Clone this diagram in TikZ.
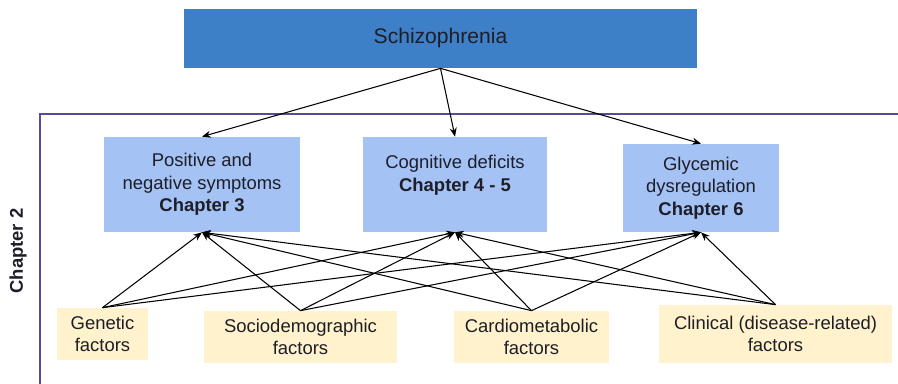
\documentclass[tikz,border=0pt]{standalone}
\usepackage{fontspec}
\setmainfont{Liberation Sans}
\usetikzlibrary{arrows.meta,positioning}
\definecolor{topblue}{HTML}{3E80C7}
\definecolor{lightblue}{HTML}{A4C2F4}
\definecolor{lightyellow}{HTML}{FFF2CC}
\definecolor{framepurple}{HTML}{58499B}
\definecolor{inkdark}{HTML}{1E1E28}

\begin{document}
\begin{tikzpicture}[x=0.02cm, y=-0.02cm,
  every node/.style={text=inkdark, font=\fontsize{10.5pt}{12.8pt}\selectfont},
  mainbox/.style={rectangle, fill=topblue, minimum width=513*0.02cm, minimum height=59*0.02cm, inner sep=0pt},
  outcomebox/.style={rectangle, fill=lightblue, align=center, inner sep=0pt},
  factorbox/.style={rectangle, fill=lightyellow, align=center, inner sep=0pt},
  linkarrow/.style={-{Stealth[length=5pt, width=4pt]}, line width=0.6pt, black}]
\useasboundingbox (0,0) rectangle (898,384);

% chapter frame
\draw[framepurple, line width=1.2pt] (40,390) |- (905,114);
\node[rotate=90, font=\fontsize{10.5pt}{12.8pt}\selectfont\bfseries] (chap2) at (18,251) {Chapter 2};

\node[mainbox, font=\fontsize{12pt}{14pt}\selectfont] (schizo) at (440.5,38.5) {Schizophrenia};

% outcomes
\node[outcomebox, minimum width=196*0.02cm, minimum height=95*0.02cm] (pos) at (202,184.5) {Positive and\\negative symptoms\\\textbf{Chapter 3}};
\node[outcomebox, minimum width=184*0.02cm, minimum height=95*0.02cm] (cog) at (455,184.5) {Cognitive deficits\\\textbf{Chapter 4 - 5}\\\mbox{}};
\node[outcomebox, minimum width=156*0.02cm, minimum height=88*0.02cm] (gly) at (701,188) {Glycemic\\dysregulation\\\textbf{Chapter 6}};

% factors
\node[factorbox, minimum width=91*0.02cm, minimum height=52*0.02cm] (gen) at (102.5,334) {Genetic\\factors};
\node[factorbox, minimum width=193*0.02cm, minimum height=52*0.02cm] (soc) at (300.5,337) {Sociodemographic\\factors};
\node[factorbox, minimum width=155*0.02cm, minimum height=52*0.02cm] (car) at (531.5,337) {Cardiometabolic\\factors};
\node[factorbox, minimum width=233*0.02cm, minimum height=58*0.02cm] (cli) at (775.5,334) {Clinical (disease-related)\\factors};

\draw[linkarrow] (schizo.south) -- (pos.north);
\draw[linkarrow] (schizo.south) -- (cog.north);
\draw[linkarrow] (schizo.south) -- (gly.north);

\draw[linkarrow] (gen.north) -- (pos.south);
\draw[linkarrow] (gen.north) -- (cog.south);
\draw[linkarrow] (gen.north) -- (gly.south);
\draw[linkarrow] (soc.north) -- (pos.south);
\draw[linkarrow] (soc.north) -- (cog.south);
\draw[linkarrow] (soc.north) -- (gly.south);
\draw[linkarrow] (car.north) -- (pos.south);
\draw[linkarrow] (car.north) -- (cog.south);
\draw[linkarrow] (car.north) -- (gly.south);
\draw[linkarrow] (cli.north) -- (pos.south);
\draw[linkarrow] (cli.north) -- (cog.south);
\draw[linkarrow] (cli.north) -- (gly.south);
\end{tikzpicture}
\end{document}
